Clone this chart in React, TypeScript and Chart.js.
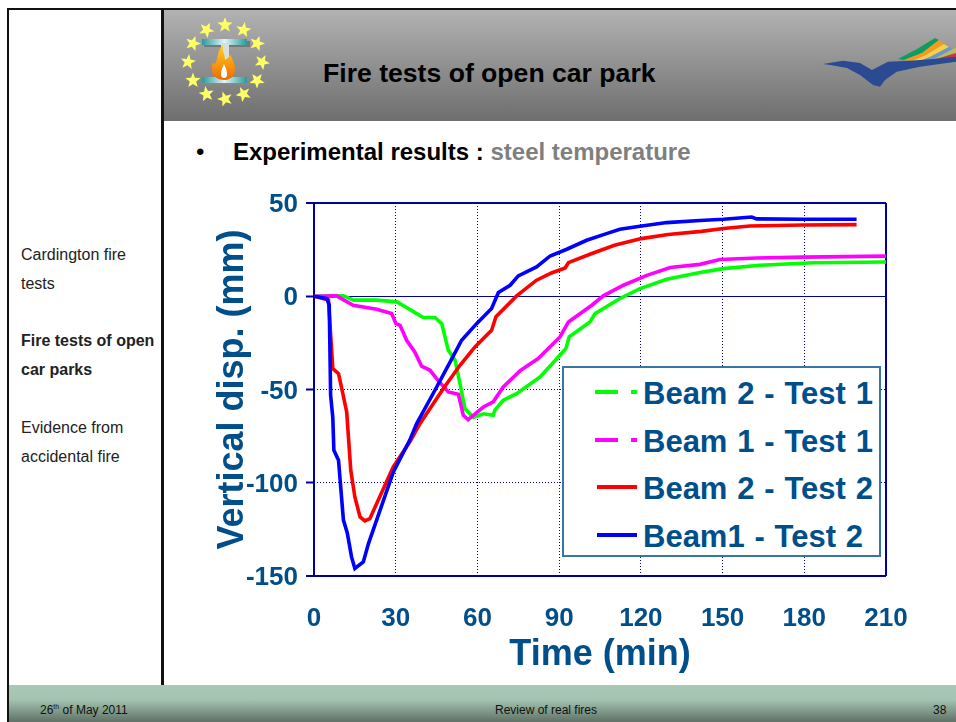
import React, { useEffect, useRef } from "react";
import { Chart, registerables } from "chart.js";

Chart.register(...registerables);

const FONT = '"Liberation Sans", Arial, sans-serif';
const BLUE_TEXT = "#004f8a";
const NAVY = "#00009c";

const xTicks = [0, 30, 60, 90, 120, 150, 180, 210];
const yTicks = [50, 0, -50, -100, -150];

const beam2Test1: [number, number][] = [[0,0],[10.8,0.3],[14.5,-2.1],[23,-2.1],[30.4,-3],[34.6,-6.6],[37.7,-9.3],[40.1,-11.4],[44.4,-11.4],[46.9,-14.7],[49.3,-29],[51.8,-34.3],[53.6,-46.8],[55.4,-60.2],[58.5,-65],[62.2,-63],[65.8,-63.8],[66.4,-61.1],[69.5,-55.8],[74.4,-52.2],[83,-43.3],[90.3,-31.6],[92.5,-28],[93.7,-21.8],[101.3,-13.8],[103.2,-9.3],[112.3,-1.2],[119.7,4.1],[129.5,9.1],[141.7,12.7],[150.3,14.8],[163.7,16.6],[183.3,18],[215.7,18.4]];
const beam1Test1: [number, number][] = [[0,0],[8.3,0.2],[14.4,-4.8],[23,-7],[28.5,-9.3],[30.1,-14.7],[31.6,-15.6],[34,-23.6],[37,-29.9],[39.5,-37.5],[42.6,-39.7],[45,-44.2],[49.3,-51.3],[53,-52.5],[54.8,-63.8],[56.6,-66.1],[62.2,-59.4],[65.8,-56.6],[69.5,-48.6],[75.6,-40],[82.3,-33.4],[90.3,-21.8],[93.4,-13.8],[102,-4.8],[106.2,0.2],[113.6,5.9],[122.2,11.2],[130.8,15.4],[141.7,17.1],[149,19.7],[162.5,20.5],[179.6,21],[215.7,21.6]];
const beam2Test2: [number, number][] = [[0,0],[5.3,-2],[6.9,-38.8],[9,-41.5],[10.2,-49.5],[12,-62],[13.5,-93.3],[15,-107.6],[16.9,-118.3],[18.7,-120.5],[20.5,-119.3],[29.1,-91.5],[35.2,-78],[38.9,-68.3],[47.5,-49.5],[53.6,-37],[59.1,-27.2],[65.2,-18.2],[66.8,-11],[74.4,0.2],[81.7,8.6],[87.2,12.5],[92.2,15.2],[93.4,18],[101.3,22.5],[110.3,27.3],[120.2,30.9],[130,33.1],[142.2,34.8],[150.3,36.3],[160,37.7],[179.6,38.2],[199.2,38.4]];
const beam1Test2: [number, number][] = [[0,0],[4.7,-1.2],[5.6,-4.8],[6.1,-53],[6.9,-65],[7.3,-82.6],[9,-87.9],[10.8,-120],[12.2,-126.8],[13.8,-139.9],[15,-146],[18.1,-142.5],[20,-132.6],[29.1,-94.3],[35.2,-77],[37.7,-68.3],[44.4,-50.4],[50,-35.2],[54.2,-23.6],[59.7,-14.7],[65.2,-6.6],[67.7,2],[72,5.9],[75,10.9],[81.7,15.7],[86.7,21.6],[92.8,25.2],[100.1,30],[107.4,33.6],[112.3,35.9],[119.7,37.5],[129.5,39.5],[141.7,40.6],[150.3,41.3],[160.7,42.5],[162.5,41.5],[179.6,41.3],[199.2,41.3]];

const seriesNames = ["Beam 2 - Test 1", "Beam 1 - Test 1", "Beam 2 - Test 2", "Beam1 - Test 2"];
const seriesColors = ["#00ff00", "#ff00ff", "#ff0000", "#0000ff"];
const seriesData = [beam2Test1, beam1Test1, beam2Test2, beam1Test2];

const sideItems = [
  { t: "Cardington fire", y: 255, b: false },
  { t: "tests", y: 284, b: false },
  { t: "Fire tests of open", y: 341, b: true },
  { t: "car parks", y: 370, b: true },
  { t: "Evidence from", y: 428, b: false },
  { t: "accidental fire", y: 457, b: false },
];

const abs = (l: number, t: number, extra: React.CSSProperties = {}): React.CSSProperties => ({
  position: "absolute", left: l, top: t, fontFamily: FONT, whiteSpace: "pre", ...extra,
});

function star(cx: number, cy: number, r: number, rot: number) {
  const pts: string[] = [];
  for (let i = 0; i < 10; i++) {
    const rad = i % 2 === 0 ? r : r * 0.42;
    const a = rot - Math.PI / 2 + (i * Math.PI) / 5;
    pts.push(`${(cx + rad * Math.cos(a)).toFixed(1)},${(cy + rad * Math.sin(a)).toFixed(1)}`);
  }
  return pts.join(" ");
}

function Logo() {
  const stars = Array.from({ length: 12 }, (_, i) => {
    const a = (i * Math.PI) / 6;
    return star(44 + 37 * Math.sin(a), 44 - 37 * Math.cos(a), 8, a * 0.3);
  });
  return (
    <svg width={90} height={90} style={{ position: "absolute", left: 181, top: 18 }}>
      <defs>
        <linearGradient id="beam" x1="0" x2="1" y1="0" y2="0">
          <stop offset="0" stopColor="#2a9a9a" />
          <stop offset="0.5" stopColor="#e0f5f5" />
          <stop offset="1" stopColor="#2a9a9a" />
        </linearGradient>
        <linearGradient id="flame" x1="0" x2="0" y1="0" y2="1">
          <stop offset="0" stopColor="#ffd020" />
          <stop offset="1" stopColor="#f06a00" />
        </linearGradient>
      </defs>
      {stars.map((p, i) => <polygon key={i} points={p} fill="#ffff66" />)}
      <rect x={23} y={23} width={46} height={6} fill="#777" />
      <rect x={23} y={61} width={46} height={6} fill="#888" />
      <rect x={21} y={21} width={45} height={6} fill="url(#beam)" />
      <rect x={21} y={59} width={45} height={6} fill="url(#beam)" />
      <rect x={40} y={25} width={8} height={36} fill="#d6e0e0" />
      <path d="M43 62 C31 62 29 50 32 44 C34 48 35 46 37 36 C38 31 41 28 42 27 C41 34 44 36 44 42 C47 40 49 38 49 36 C52 42 56 50 53 56 C51 60 48 62 43 62 Z" fill="url(#flame)" />
      <path d="M43 60 C39 60 39 54 43 46 C47 54 47 60 43 60 Z" fill="#fff" />
    </svg>
  );
}

function Bird() {
  return (
    <svg width={134} height={60} style={{ position: "absolute", left: 822, top: 34 }}>
      <polygon points="76,25 95,15 113,4 117,6 100,19 82,26" fill="#0e9c60" />
      <polygon points="82,26 100,19 117,6 122,10 104,21 90,27" fill="#f39a20" />
      <polygon points="90,27 104,21 122,10 127,13 108,23 98,27" fill="#f5d040" />
      <polygon points="98,27 108,23 127,13 131,15 112,25 104,27" fill="#6a97d0" />
      <polygon points="104,27 112,25 131,15 134,14 134,19 110,26" fill="#b4c060" />
      <polygon points="108,27 134,19 134,24 110,27" fill="#cc3344" />
      <path d="M1 30 L21 26.7 L38 29 L50 36 L66 27.7 L88 26.7 L111 25 L134 22.7 L134 27.7 L98 32.7 L74.7 37.7 L63 46 L58 52.7 L51 51 L38 41 L25 34 L8 31 Z" fill="#2a4a92" />
    </svg>
  );
}

export default function App() {
  const ref = useRef<HTMLCanvasElement>(null);

  useEffect(() => {
    const frameY = [50, -150, 0];
    const frameX = [0, 210];
    const chart = new Chart(ref.current!, {
      type: "line",
      data: {
        datasets: seriesData.map((d, i) => ({
          label: seriesNames[i],
          data: d.map(([x, y]) => ({ x, y })),
          borderColor: seriesColors[i],
          backgroundColor: seriesColors[i],
          borderWidth: 3.6,
          pointRadius: 0,
          tension: 0,
          fill: false,
          order: 4 - i,
        })),
      },
      options: {
        animation: false,
        responsive: false,
        layout: { padding: { left: 211, top: 203, right: 70, bottom: 45 } },
        plugins: { legend: { display: false }, tooltip: { enabled: false }, title: { display: false } },
        scales: {
          x: {
            type: "linear",
            min: 0,
            max: 210,
            afterFit: (s: any) => { s.height = 101; },
            afterBuildTicks: (s: any) => { s.ticks = xTicks.map((value) => ({ value })); },
            ticks: { color: BLUE_TEXT, font: { family: FONT, size: 26, weight: "bold" }, padding: 27, maxRotation: 0, autoSkip: false },
            grid: {
              color: NAVY,
              lineWidth: (c: any) => (frameX.includes(c.tick?.value) ? 2 : 1),
              drawTicks: false,
              tickLength: 0,
            },
            border: { display: false, dash: (c: any) => (frameX.includes(c.tick?.value) ? [] : [1, 2]) },
            title: { display: true, text: "Time (min)", color: BLUE_TEXT, font: { family: FONT, size: 36, weight: "bold" }, padding: { top: 0, bottom: 0 } },
          },
          y: {
            type: "linear",
            min: -150,
            max: 50,
            afterFit: (s: any) => { s.width = 103; },
            afterBuildTicks: (s: any) => { s.ticks = yTicks.map((value) => ({ value })); },
            ticks: { color: BLUE_TEXT, font: { family: FONT, size: 26, weight: "bold" }, padding: 8, labelOffset: 2, autoSkip: false },
            grid: {
              color: NAVY,
              lineWidth: (c: any) => (c.tick?.value === 0 ? 1 : frameY.includes(c.tick?.value) ? 2 : 1),
              tickLength: 8,
              tickColor: NAVY,
              tickWidth: 2,
              tickBorderDash: [],
            },
            border: { display: false, dash: (c: any) => (frameY.includes(c.tick?.value) ? [] : [1, 2]) },
            title: { display: true, text: "Vertical disp. (mm)", color: BLUE_TEXT, font: { family: FONT, size: 36, weight: "bold" }, padding: { top: 0, bottom: 0 } },
          },
        },
      },
    } as any);
    return () => chart.destroy();
  }, []);

  const legendRows = [394, 442, 489, 537];

  return (
    <div style={{ position: "absolute", left: 0, top: 0, width: 956, height: 722, background: "#fff", overflow: "hidden" }}>
      {/* slide frame */}
      <div style={{ position: "absolute", left: 163, top: 10, width: 793, height: 111, background: "linear-gradient(#b2b2b2,#6e6e6e)" }} />
      <div style={{ position: "absolute", left: 8, top: 685, width: 948, height: 37, background: "linear-gradient(#a9c9b6 0%,#a4c3b0 40%,#5f7166 100%)" }} />
      <div style={{ position: "absolute", left: 8, top: 8, width: 948, height: 2, background: "#111" }} />
      <div style={{ position: "absolute", left: 7, top: 8, width: 2, height: 714, background: "#111" }} />
      <div style={{ position: "absolute", left: 161, top: 8, width: 3, height: 677, background: "#111" }} />
      <Logo />
      <Bird />

      <div style={abs(323, 58, { fontSize: 26.6, fontWeight: "bold", color: "#000", lineHeight: "30px" })}>Fire tests of open car park</div>
      <div style={abs(196, 138, { fontSize: 24, color: "#000", lineHeight: "28px" })}>•</div>
      <div style={abs(233, 138, { fontSize: 24, fontWeight: "bold", color: "#000", lineHeight: "28px" })}>
        Experimental results : <span style={{ color: "#7f7f7f" }}>steel temperature</span>
      </div>

      {sideItems.map((s) => (
        <div key={s.t} style={abs(21, s.y - 10, { fontSize: 16, lineHeight: "20px", fontWeight: s.b ? "bold" : "normal", color: "#222" })}>{s.t}</div>
      ))}

      <div style={abs(40, 703, { fontSize: 12, lineHeight: "14px", color: "#111" })}>
        26<sup style={{ fontSize: 7, lineHeight: 0 }}>th</sup> of May 2011
      </div>
      <div style={abs(495, 703, { fontSize: 12, lineHeight: "14px", color: "#111" })}>Review of real fires</div>
      <div style={abs(933, 703, { fontSize: 12, lineHeight: "14px", color: "#111" })}>38</div>

      <canvas ref={ref} width={956} height={722} style={{ position: "absolute", left: 0, top: 0, width: 956, height: 722 }} />

      {/* legend */}
      <div style={{ position: "absolute", left: 562, top: 366, width: 319, height: 191, boxSizing: "border-box", background: "#fff", border: "2px solid #3a76a2" }} />
      <svg width={60} height={191} style={{ position: "absolute", left: 590, top: 366 }}>
        {seriesNames.map((_, i) => (
          <line key={i} x1={i < 2 ? 5 : 7} x2={47} y1={legendRows[i] - 366 - 2} y2={legendRows[i] - 366 - 2}
            stroke={seriesColors[i]} strokeWidth={4} strokeDasharray={i < 2 ? "23 13 6 100" : undefined} />
        ))}
      </svg>
      {seriesNames.map((n, i) => (
        <div key={n} style={abs(643, legendRows[i] - 20, { fontSize: 31, lineHeight: "40px", fontWeight: "bold", color: BLUE_TEXT, wordSpacing: 1.2 })}>{n}</div>
      ))}
    </div>
  );
}
